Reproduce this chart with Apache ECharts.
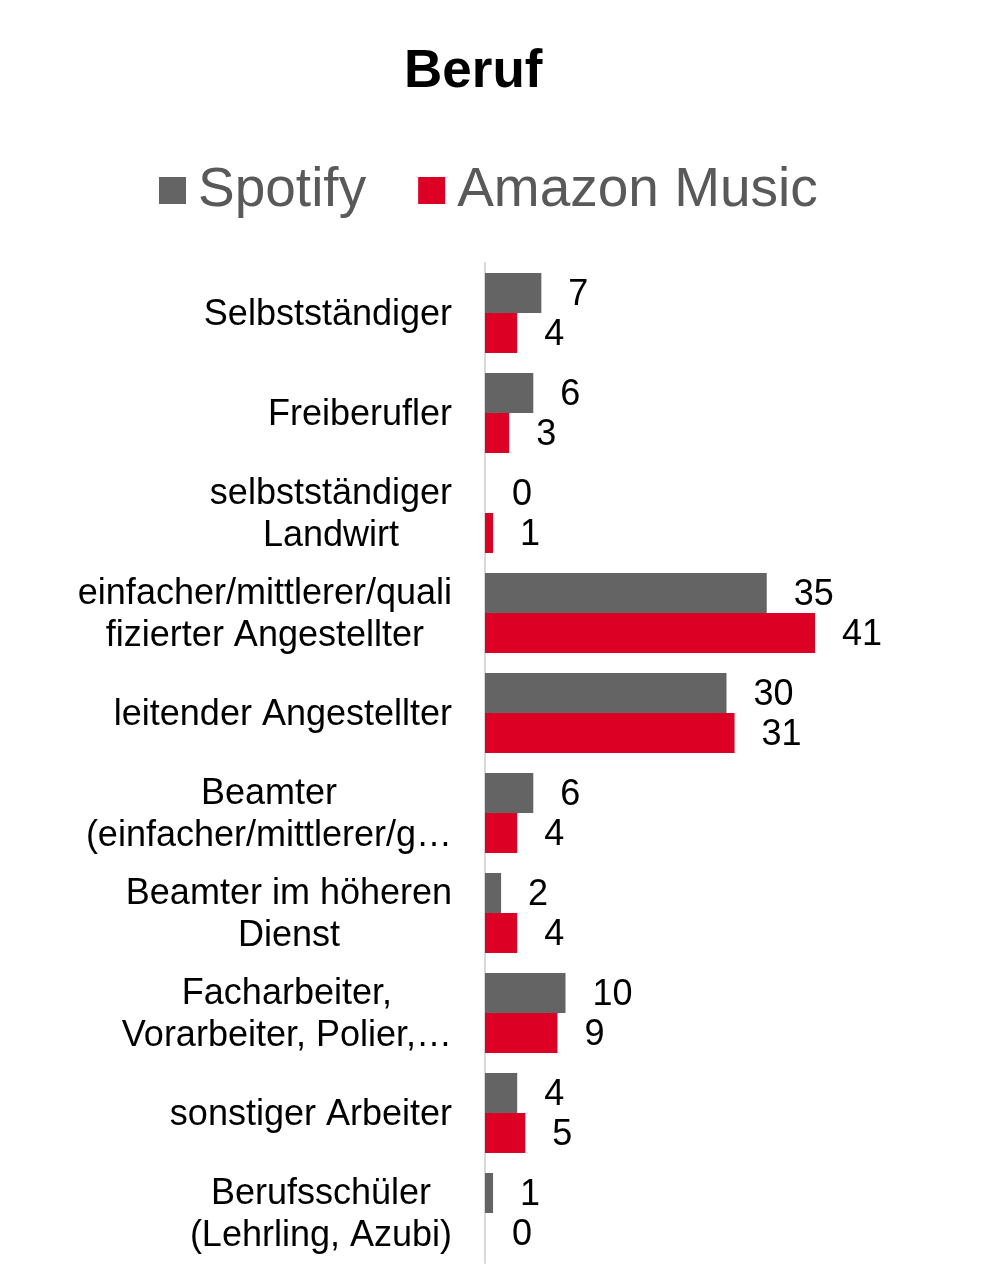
<!DOCTYPE html>
<html>
<head>
<meta charset="utf-8">
<script src="https://cdn.jsdelivr.net/npm/echarts@6/dist/echarts.min.js"></script>
<style>
html,body{margin:0;padding:0;background:#fff;}
#chart{width:992px;height:1277px;}
</style>
</head>
<body>
<div id="chart"></div>
<script>
const titleText = 'Beruf';
const seriesNames = ['Spotify', 'Amazon Music'];
const categories = [
  'Selbstständiger',
  'Freiberufler',
  'selbstständiger\nLandwirt',
  'einfacher/mittlerer/quali\nfizierter Angestellter',
  'leitender Angestellter',
  'Beamter\n(einfacher/mittlerer/g…',
  'Beamter im höheren\nDienst',
  'Facharbeiter,\nVorarbeiter, Polier,…',
  'sonstiger Arbeiter',
  'Berufsschüler\n(Lehrling, Azubi)'
];
const spotifyValues = [7, 6, 0, 35, 30, 6, 2, 10, 4, 1];
const amazonValues = [4, 3, 1, 41, 31, 4, 4, 9, 5, 0];

const FONT = '"Liberation Sans", Arial, Helvetica, sans-serif';
const chart = echarts.init(document.getElementById('chart'), null, {renderer: 'canvas'});

const labelStyle = {
  show: true,
  position: 'right',
  distance: 27,
  offset: [0, 2],
  fontSize: 36,
  color: '#000',
  fontFamily: FONT
};

chart.setOption({
  animation: false,
  backgroundColor: '#fff',
  title: {
    text: titleText,
    left: 399,
    top: 41,
    textStyle: {fontSize: 53, fontWeight: 'bold', color: '#000', fontFamily: FONT}
  },
  legend: {
    data: seriesNames,
    left: 154,
    top: 158,
    icon: 'rect',
    itemWidth: 27,
    itemHeight: 27,
    itemGap: 52,
    textStyle: {fontSize: 55, color: '#595959', fontFamily: FONT, padding: [0, 0, 0, 7]}
  },
  grid: {left: 485, right: 104.5, top: 263, bottom: 14, containLabel: false},
  xAxis: {
    type: 'value',
    min: 0,
    max: 50,
    show: false
  },
  yAxis: {
    type: 'category',
    data: categories,
    inverse: true,
    axisTick: {show: false},
    axisLine: {show: true, lineStyle: {color: '#d9d9d9', width: 2}},
    axisLabel: {
      margin: 33,
      color: '#000',
      fontSize: 36,
      lineHeight: 42,
      fontFamily: FONT,
      formatter: function (v) {
        return v.split('\n').map(function (l) { return '{c|' + l + '}'; }).join('\n');
      },
      rich: {
        c: {align: 'center', fontSize: 36, lineHeight: 42, color: '#000', fontFamily: FONT, padding: [4, 0, 0, 0]}
      }
    }
  },
  series: [
    {
      name: seriesNames[0],
      type: 'bar',
      data: spotifyValues,
      barWidth: 40,
      barGap: '0%',
      itemStyle: {color: '#646464'},
      label: labelStyle
    },
    {
      name: seriesNames[1],
      type: 'bar',
      data: amazonValues,
      barWidth: 40,
      barGap: '0%',
      itemStyle: {color: '#dc0024'},
      label: labelStyle
    }
  ]
});
</script>
</body>
</html>
